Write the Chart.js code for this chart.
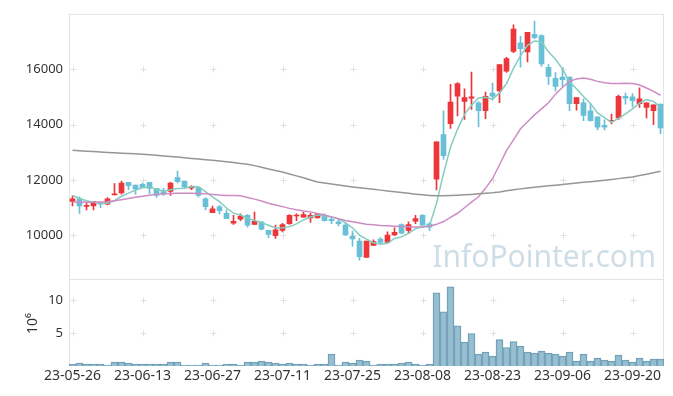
<!DOCTYPE html>
<html><head><meta charset="utf-8">
<script src="https://cdn.jsdelivr.net/npm/chart.js@4.4.0/dist/chart.umd.min.js"></script>
<style>html,body{margin:0;padding:0;background:#fff;}</style>
</head><body>
<canvas id="c" width="673" height="396"></canvas>
<script>
const dates = ['23-05-26','23-05-30','23-05-31','23-06-01','23-06-02','23-06-05','23-06-07','23-06-08','23-06-09','23-06-12',
'23-06-13','23-06-14','23-06-15','23-06-16','23-06-19','23-06-20','23-06-21','23-06-22','23-06-23','23-06-26',
'23-06-27','23-06-28','23-06-29','23-06-30','23-07-03','23-07-04','23-07-05','23-07-06','23-07-07','23-07-10',
'23-07-11','23-07-12','23-07-13','23-07-14','23-07-17','23-07-18','23-07-19','23-07-20','23-07-21','23-07-24',
'23-07-25','23-07-26','23-07-27','23-07-28','23-07-31','23-08-01','23-08-02','23-08-03','23-08-04','23-08-07',
'23-08-08','23-08-09','23-08-10','23-08-11','23-08-14','23-08-16','23-08-17','23-08-18','23-08-21','23-08-22',
'23-08-23','23-08-24','23-08-25','23-08-28','23-08-29','23-08-30','23-08-31','23-09-01','23-09-04','23-09-05',
'23-09-06','23-09-07','23-09-08','23-09-11','23-09-12','23-09-13','23-09-14','23-09-15','23-09-18','23-09-19',
'23-09-20','23-09-21','23-09-22','23-09-25','23-09-26'];
const opens = [11225,11321,11050,11061,11180,11130,11460,11536,11920,11821,
11845,11920,11700,11580,11585,12085,11964,11710,11727,11320,
10820,11036,10800,10440,10583,10725,10393,10490,10180,9990,
10180,10420,10700,10655,10630,10630,10725,10583,10490,10370,
9965,9800,9205,9635,9870,9750,10015,10393,10180,10510,
10725,10420,12030,13640,14030,15030,14835,14955,14785,14500,
15140,15215,15930,16640,16950,16620,17260,17210,16070,15670,
15715,15715,14760,14785,14500,14285,13975,14120,14240,15025,
15000,14760,14620,14500,14740];
const highs = [11418,11393,11200,11225,11180,11370,11868,11964,11920,11821,
11890,11920,11700,11700,11920,12320,11964,11800,11750,11370,
11060,11085,10920,10725,10775,10750,10845,10490,10180,10370,
10440,10750,10775,10845,10800,10800,10775,10655,10607,10465,
10155,9893,9800,9845,9920,10130,10275,10420,10490,10725,
10750,10460,13380,14500,15450,15520,15290,15900,14830,15170,
15500,16170,16430,17600,17190,17330,17740,17240,16170,15880,
16050,15715,14975,14930,14740,14285,14170,14380,15070,15140,
15120,15330,14785,14715,14740];
const lows = [11061,10798,10920,10920,11000,11100,11460,11490,11655,11490,
11727,11510,11370,11440,11440,11893,11700,11655,11390,10920,
10820,10775,10607,10393,10535,10300,10393,10200,9920,9893,
10130,10393,10535,10655,10465,10630,10510,10420,10345,9990,
9610,9110,9205,9635,9705,9730,9990,10060,10060,10420,
10370,10170,11640,12740,13860,14310,14190,14550,13930,14215,
14880,14790,15880,16600,16070,16260,17100,16100,15450,15210,
15380,14500,14525,14140,14120,13810,13810,14025,14190,14740,
14640,14620,14240,14000,13670];
const closes = [11321,11061,11090,11225,11130,11321,11500,11893,11800,11680,
11727,11700,11440,11490,11893,11940,11750,11750,11440,11040,
10964,10893,10607,10510,10700,10370,10510,10226,10036,10205,
10393,10725,10725,10750,10725,10775,10535,10535,10420,10015,
9870,9230,9800,9775,9750,10015,10110,10085,10393,10607,
10370,10300,13380,12880,14810,15480,14980,15000,14500,15025,
15025,16170,16380,17450,16740,17330,17140,16190,15740,15380,
15620,14760,14975,14330,14140,13905,13905,14140,15025,14955,
14860,14930,14785,14715,13880];
const volumes = [0.25,0.45,0.3,0.3,0.3,0.15,0.6,0.6,0.45,0.3,
0.3,0.3,0.3,0.3,0.6,0.6,0.15,0.15,0.15,0.45,
0.15,0.15,0.3,0.3,0.15,0.6,0.6,0.75,0.6,0.45,
0.3,0.45,0.3,0.3,0.15,0.3,0.3,1.8,0.15,0.6,
0.45,0.9,0.75,0.15,0.3,0.3,0.3,0.45,0.6,0.3,
0.15,0.3,11.1,8.2,12.0,6.1,3.6,4.9,1.8,2.1,
1.5,4.0,2.8,3.7,3.0,2.1,1.95,2.25,1.95,1.8,
1.5,2.1,0.75,1.8,0.75,1.2,0.9,0.75,1.65,0.9,
0.6,1.2,0.75,1.05,1.05];
const ma5 = [11440,11333,11250,11200,11165,11165,11253,11414,11529,11639,
11720,11760,11669,11607,11650,11693,11703,11765,11755,11584,
11389,11217,10989,10803,10735,10616,10539,10463,10368,10269,
10274,10317,10417,10560,10664,10740,10702,10664,10598,10456,
10275,10014,9867,9738,9685,9714,9890,9947,10071,10242,
10313,10351,11155,12230,13180,13830,14370,14700,14960,14990,
14920,15144,15480,16030,16480,16860,17020,16990,16628,16356,
16014,15538,15295,15013,14765,14422,14251,14084,14223,14387,
14568,14773,14901,14839,14624];
const ma20 = [11205,11205,11200,11200,11205,11215,11250,11290,11333,11375,
11417,11450,11488,11500,11512,11518,11522,11524,11515,11500,
11480,11455,11445,11437,11429,11370,11310,11240,11160,11100,
11040,10976,10930,10880,10850,10790,10738,10670,10600,10536,
10490,10445,10405,10385,10360,10345,10330,10320,10310,10305,
10300,10330,10400,10500,10650,10800,11000,11200,11393,11700,
12047,12550,13060,13450,13850,14100,14350,14570,14786,15100,
15350,15560,15650,15679,15640,15560,15510,15480,15480,15490,
15480,15430,15320,15200,15060];
const maLong = [13070,13055,13040,13025,13010,12995,12985,12970,12955,12945,
12930,12910,12890,12870,12850,12830,12805,12780,12755,12735,
12715,12690,12660,12630,12600,12570,12520,12460,12400,12340,
12290,12220,12150,12080,12000,11930,11890,11855,11820,11785,
11750,11720,11690,11665,11635,11607,11580,11550,11520,11490,
11465,11445,11430,11430,11440,11450,11465,11480,11500,11518,
11536,11570,11610,11645,11680,11715,11740,11765,11790,11815,
11840,11865,11890,11915,11940,11965,11990,12020,12050,12080,
12110,12160,12210,12265,12320];
const priceTicks = [10000,12000,14000,16000];
const volumeTicks = [5,10];
const labelEvery = 10;

const RED = 'rgb(236,54,58)';
const BLUE = 'rgb(104,192,214)';
const FONT = 'Noto Sans';
const isUp = i => closes[i] >= opens[i];

const decor = {
  id: 'decor',
  beforeDatasetsDraw(chart) {
    const {ctx, chartArea: a, scales} = chart;
    ctx.save();
    ctx.fillStyle = 'rgba(190,210,222,0.75)';
    ctx.font = '30px "' + FONT + '"';
    ctx.textAlign = 'right';
    ctx.textBaseline = 'alphabetic';
    ctx.fillText('InfoPointer.com', 656, 267);
    ctx.strokeStyle = '#e0e0e0';
    ctx.lineWidth = 1;
    const xs = [];
    for (let i = 0; i < dates.length; i += labelEvery) xs.push(Math.round(scales.x.getPixelForValue(i)) + 0.5);
    const cross = (x, y) => {
      ctx.beginPath();
      ctx.moveTo(x - 3, y); ctx.lineTo(x + 3, y);
      ctx.moveTo(x, y - 3); ctx.lineTo(x, y + 3);
      ctx.stroke();
    };
    priceTicks.forEach(v => { const y = Math.round(scales.y.getPixelForValue(v)) + 0.5; xs.forEach(x => cross(x, y)); });
    volumeTicks.forEach(v => { const y = Math.round(scales.yv.getPixelForValue(v)) + 0.5; xs.forEach(x => cross(x, y)); });
    ctx.strokeStyle = '#e3e3e3';
    ctx.beginPath();
    ctx.moveTo(a.left + 0.5, a.bottom); ctx.lineTo(a.left + 0.5, a.top + 0.5);
    ctx.lineTo(a.right - 0.5, a.top + 0.5); ctx.lineTo(a.right - 0.5, a.bottom);
    const dy = Math.round(scales.y.bottom) + 0.5;
    ctx.moveTo(a.left, dy); ctx.lineTo(a.right, dy);
    ctx.stroke();
    ctx.restore();
  },
  afterDraw(chart) {
    const {ctx, scales} = chart;
    ctx.save();
    ctx.fillStyle = '#333';
    ctx.font = '14px "' + FONT + '"';
    ctx.translate(33, (scales.yv.top + scales.yv.bottom) / 2 + 1);
    ctx.rotate(-Math.PI / 2);
    ctx.textAlign = 'center';
    ctx.textBaseline = 'middle';
    ctx.fillText('10\u2076', 0, 0);
    ctx.restore();
  }
};

const tickFont = {family: FONT, size: 13};
const xTickFont = {family: FONT, size: 14};
new Chart(document.getElementById('c'), {
  data: {
    labels: dates,
    datasets: [
      {type: 'line', data: maLong, borderColor: 'rgb(150,150,150)', borderWidth: 1.5, pointRadius: 0, tension: 0, yAxisID: 'y', order: 0},
      {type: 'line', data: ma20, borderColor: 'rgb(206,140,196)', borderWidth: 1.5, pointRadius: 0, tension: 0, yAxisID: 'y', order: 0},
      {type: 'line', data: ma5, borderColor: 'rgb(132,204,192)', borderWidth: 1.5, pointRadius: 0, tension: 0, yAxisID: 'y', order: 0},
      {type: 'bar', data: dates.map((d, i) => [lows[i], highs[i]]), yAxisID: 'y', grouped: false, barThickness: 1,
        backgroundColor: c => isUp(c.dataIndex) ? RED : BLUE, borderWidth: 0, order: 2},
      {type: 'bar', data: dates.map((d, i) => [opens[i], closes[i]]), yAxisID: 'y', grouped: false, barThickness: 5, minBarLength: 1,
        backgroundColor: c => isUp(c.dataIndex) ? RED : BLUE, borderWidth: 0, order: 1},
      {type: 'bar', data: volumes, yAxisID: 'yv', grouped: false, barPercentage: 1, categoryPercentage: 1,
        backgroundColor: 'rgba(140,184,204,0.9)', borderColor: 'rgb(108,156,180)', borderWidth: 1, order: 1}
    ]
  },
  options: {
    responsive: false, animation: false, devicePixelRatio: 1,
    layout: {padding: {left: 0, top: 10, right: 9, bottom: 0}},
    plugins: {legend: {display: false}, tooltip: {enabled: false}},
    scales: {
      x: {type: 'category', offset: true, grid: {display: false, drawTicks: false}, border: {display: false},
        ticks: {autoSkip: false, maxRotation: 0, minRotation: 0, color: '#333', font: xTickFont, padding: 2,
          callback: (v, i) => (i % labelEvery === 0 ? dates[i] : '')},
        afterFit: s => { s.height = 30; }},
      yv: {type: 'linear', position: 'left', stack: 'p', stackWeight: 88, min: 0, max: 13.2,
        grid: {display: false, drawTicks: false}, border: {display: false},
        afterBuildTicks: s => { s.ticks = volumeTicks.map(v => ({value: v})); },
        ticks: {color: '#333', font: tickFont, padding: 6, callback: v => String(v)},
        afterFit: s => { s.width = 69; }},
      y: {type: 'linear', position: 'left', stack: 'p', stackWeight: 268, min: 8429, max: 18000,
        grid: {display: false, drawTicks: false}, border: {display: false},
        afterBuildTicks: s => { s.ticks = priceTicks.map(v => ({value: v})); },
        ticks: {color: '#333', font: tickFont, padding: 6, callback: v => String(v)},
        afterFit: s => { s.width = 69; }}
    }
  },
  plugins: [decor]
});
</script>
</body></html>
